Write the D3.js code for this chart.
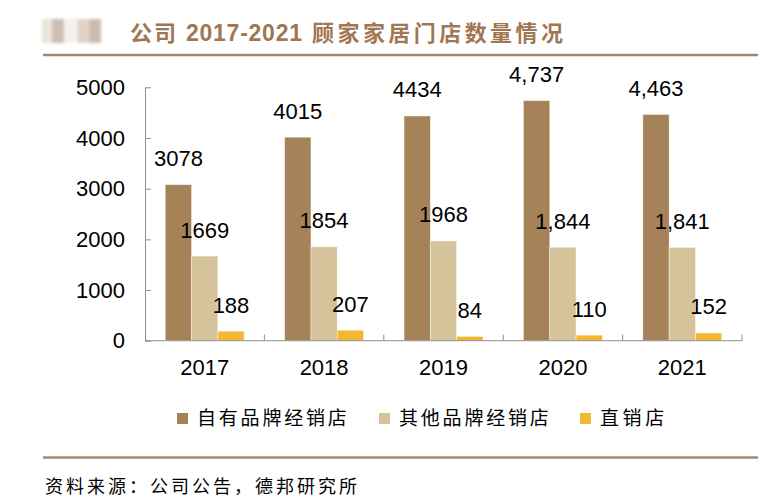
<!DOCTYPE html>
<html>
<head>
<meta charset="utf-8">
<script src="https://cdn.jsdelivr.net/npm/d3@7"></script>
<style>
  body { margin: 0; background: #fff; }
  .axis path, .axis line { stroke: #8f8f8f; }
  .axis text { font-family: 'Liberation Sans', Arial, sans-serif; font-size: 22px; fill: #000; }
  .val { font-family: 'Liberation Sans', Arial, sans-serif; font-size: 22px; fill: #000; text-anchor: middle; }
  .cjk { font-family: 'Noto Sans CJK SC', sans-serif; }
  .title { font-weight: bold; fill: #9f7753; }
</style>
</head>
<body>
<div id="chart"></div>
<script>
const years = ['2017', '2018', '2019', '2020', '2021'];
const series = ['自有品牌经销店', '其他品牌经销店', '直销店'];
const ownBrand = [3078, 4015, 4434, 4737, 4463];
const otherBrand = [1669, 1854, 1968, 1844, 1841];
const direct = [188, 207, 84, 110, 152];
const yTicks = [0, 1000, 2000, 3000, 4000, 5000];
const commaYears = ['2020', '2021'];   // labels shown with thousands separator
const colors = ['#a68259', '#d5c39b', '#f4b732'];

const width = 778, height = 504;
let plot = {left: 145, right: 742, top: 87.3, bottom: 340.7};

let svg = d3.select('#chart')
  .append('svg')
    .attr('width', width)
    .attr('height', height);

// header
let blur = svg.append('defs').append('filter').attr('id', 'blur')
  .attr('x', '-20%').attr('y', '-40%').attr('width', '140%').attr('height', '180%');
blur.append('feGaussianBlur').attr('stdDeviation', 1.8);

let logo = svg.append('g').attr('filter', 'url(#blur)');
[[42, '#ebe4dd'], [52, '#cdbfb2'], [64, '#f5f1ed'], [77, '#e0d4c9'], [89, '#cdbcae']].forEach(([x, c]) => {
  logo.append('rect').attr('x', x).attr('y', 19).attr('width', 12).attr('height', 24).attr('fill', c);
});

// title in three runs: CJK / latin digits / CJK
let titleParts = [
  {text: '公司', x: 130, len: 46, font: "'Noto Sans CJK SC', sans-serif", size: 22},
  {text: '2017-2021', x: 186, len: 116, font: "'Liberation Sans', Arial, sans-serif", size: 23},
  {text: '顾家家居门店数量情况', x: 312, len: 251, font: "'Noto Sans CJK SC', sans-serif", size: 22}
];
svg.append('g')
  .selectAll('text')
  .data(titleParts)
  .enter()
  .append('text')
    .attr('class', 'title')
    .attr('x', d => d.x)
    .attr('y', 41)
    .attr('textLength', d => d.len)
    .attr('lengthAdjust', 'spacing')
    .style('font-family', d => d.font)
    .style('font-size', d => d.size + 'px')
    .text(d => d.text);

svg.append('line')
  .attr('x1', 43).attr('x2', 758).attr('y1', 55).attr('y2', 55)
  .attr('stroke', '#a9876b').attr('stroke-width', 2.5);

// scales
let sx = d3.scaleBand().domain(years).range([plot.left, plot.right]);
let sb = d3.scaleBand().domain(series).range([0, sx.bandwidth()]).paddingOuter(0.77);
let sy = d3.scaleLinear().domain([0, 5000]).range([plot.bottom, plot.top]);

let values = [ownBrand, otherBrand, direct];
let bars = [];
series.forEach((s, i) => {
  years.forEach((y, j) => bars.push({series: s, year: y, value: values[i][j], color: colors[i]}));
});

// bars
svg.append('g')
  .selectAll('rect')
  .data(bars)
  .enter()
  .append('rect')
    .attr('x', d => sx(d.year) + sb(d.series))
    .attr('y', d => sy(d.value))
    .attr('width', sb.bandwidth())
    .attr('height', d => sy(0) - sy(d.value))
    .attr('fill', d => d.color)
    .attr('stroke', '#fff')
    .attr('stroke-opacity', 0.5)
    .attr('stroke-width', 0.8);

// value labels
let plain = d3.format('d'), comma = d3.format(',');
svg.append('g')
  .selectAll('text')
  .data(bars)
  .enter()
  .append('text')
    .attr('class', 'val')
    .attr('x', d => sx(d.year) + sb(d.series) + sb.bandwidth() / 2)
    .attr('y', d => sy(d.value) - 18.5)
    .text(d => commaYears.includes(d.year) ? comma(d.value) : plain(d.value));

// y axis
svg.append('g')
  .attr('class', 'y axis')
  .attr('transform', `translate(${plot.left},0)`)
  .call(d3.axisLeft(sy).tickValues(yTicks).tickFormat(d3.format('d'))
    .tickSizeInner(-6).tickSizeOuter(0).tickPadding(20));

// x axis: labels only, line and separators drawn below
let xg = svg.append('g')
  .attr('class', 'x axis')
  .attr('transform', `translate(0,${plot.bottom})`)
  .call(d3.axisBottom(sx).tickSize(0).tickPadding(19));
xg.select('.domain').remove();

svg.append('line')
  .attr('x1', plot.left).attr('x2', plot.right)
  .attr('y1', plot.bottom).attr('y2', plot.bottom)
  .attr('stroke', '#8f8f8f');

svg.append('g')
  .selectAll('line')
  .data(years)
  .enter()
  .append('line')
    .attr('x1', d => sx(d) + sx.bandwidth())
    .attr('x2', d => sx(d) + sx.bandwidth())
    .attr('y1', plot.bottom - 6)
    .attr('y2', plot.bottom)
    .attr('stroke', '#8f8f8f');

// legend
let legendX = [177, 379, 580];
let legend = svg.append('g')
  .selectAll('g')
  .data(series)
  .enter()
  .append('g')
    .attr('transform', (d, i) => `translate(${legendX[i]},0)`);

legend.append('rect')
  .attr('x', 0).attr('y', 413)
  .attr('width', 11).attr('height', 11)
  .attr('fill', (d, i) => colors[i]);

legend.append('text')
  .attr('class', 'cjk')
  .attr('x', 20)
  .attr('y', 425)
  .attr('textLength', d => d.length * 21.4)
  .attr('lengthAdjust', 'spacing')
  .style('font-size', '19px')
  .style('fill', '#000')
  .text(d => d);

// footer
svg.append('line')
  .attr('x1', 43).attr('x2', 758).attr('y1', 457.5).attr('y2', 457.5)
  .attr('stroke', '#a9876b').attr('stroke-width', 2.5);

svg.append('text')
  .attr('class', 'cjk')
  .attr('x', 45)
  .attr('y', 493)
  .attr('textLength', 312)
  .attr('lengthAdjust', 'spacing')
  .style('font-size', '18px')
  .style('fill', '#000')
  .text('资料来源：公司公告，德邦研究所');
</script>
</body>
</html>
